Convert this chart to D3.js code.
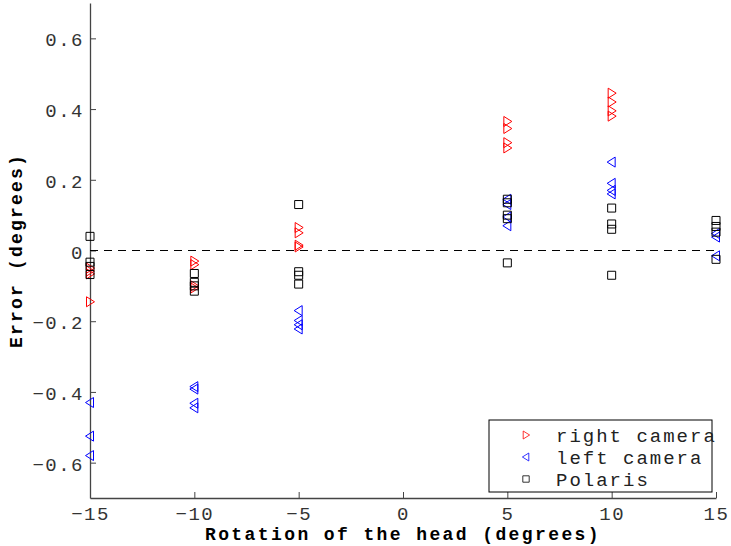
<!DOCTYPE html>
<html>
<head>
<meta charset="utf-8">
<script src="https://cdn.jsdelivr.net/npm/d3@7"></script>
<style>
  body { margin: 0; background: #fff; }
  text { font-family: "Liberation Mono", "Courier New", monospace; }
</style>
</head>
<body>
<svg id="chart" width="731" height="546"></svg>
<script>
// data: x = head rotation, y = error (degrees)
const rightX = [-15, -15, -15, -15, -10, -10, -10, -10, -5, -5, -5, -5, 5, 5, 5, 5, 10, 10, 10, 10];
const rightY = [-0.05, -0.058, -0.066, -0.145, -0.03, -0.04, -0.1, -0.106, 0.065, 0.05, 0.015, 0.01, 0.365, 0.345, 0.305, 0.29, 0.445, 0.42, 0.395, 0.38];

const leftX = [-15, -15, -15, -10, -10, -10, -10, -5, -5, -5, -5, 5, 5, 5, 5, 10, 10, 10, 10, 15, 15, 15];
const leftY = [-0.43, -0.525, -0.58, -0.385, -0.392, -0.432, -0.445, -0.17, -0.198, -0.21, -0.222, 0.145, 0.13, 0.095, 0.07, 0.25, 0.19, 0.17, 0.16, 0.048, 0.038, -0.015];

const polX = [-15, -15, -15, -15, -10, -10, -10, -10, -5, -5, -5, -5, 5, 5, 5, 5, 5, 10, 10, 10, 10, 15, 15, 15, 15];
const polY = [0.04, -0.033, -0.045, -0.068, -0.065, -0.09, -0.1, -0.115, 0.13, -0.06, -0.07, -0.095, 0.145, 0.135, 0.1, 0.09, -0.035, 0.12, 0.075, 0.06, -0.07, 0.085, 0.068, 0.052, -0.025];

const xTicks = [-15, -10, -5, 0, 5, 10, 15];
const yTicks = [-0.6, -0.4, -0.2, 0, 0.2, 0.4, 0.6];
const legendLabels = ["right camera", "left camera", "Polaris"];

const svg = d3.select("#chart");
const margin = {left: 90, right: 15, top: 3, bottom: 48};
const W = 731, H = 546;

const x = d3.scaleLinear().domain([-15, 15]).range([margin.left, W - margin.right]);
const y = d3.scaleLinear().domain([-0.7, 0.7]).range([H - margin.bottom, margin.top]);

const minus = s => s.replace("-", "\u2212");

// axes (ticks point inward)
const xAxis = d3.axisBottom(x).tickValues(xTicks).tickSizeInner(-6).tickSizeOuter(0)
  .tickPadding(9).tickFormat(d => minus(d3.format("d")(d)));
const yAxis = d3.axisLeft(y).tickValues(yTicks).tickSizeInner(-6).tickSizeOuter(0)
  .tickPadding(6).tickFormat(d => d === 0 ? "0" : minus(d3.format(".1f")(d)));

const gx = svg.append("g").attr("transform", "translate(0," + y(-0.7) + ")").call(xAxis);
const gy = svg.append("g").attr("transform", "translate(" + x(-15) + ",0)").call(yAxis);

[gx, gy].forEach(g => {
  g.select(".domain").attr("stroke", "#444").attr("stroke-width", 1.3);
  g.selectAll(".tick line").attr("stroke", "#444");
  g.selectAll(".tick text").attr("fill", "#333").style("font-size", "19px").style("letter-spacing", "1.5px");
});
gy.selectAll(".tick text").attr("dy", "0.4em");

// zero reference line
svg.append("line")
  .attr("x1", x(-15)).attr("x2", x(15))
  .attr("y1", y(0)).attr("y2", y(0))
  .attr("stroke", "#000").attr("stroke-dasharray", "8,6");

const s = 5;
const triRight = `M${-s * 0.7},${-s} L${s * 0.9},0 L${-s * 0.7},${s} Z`;
const triLeft = `M${s * 0.7},${-s} L${-s * 0.9},0 L${s * 0.7},${s} Z`;
const square = "M-4,-4 H4 V4 H-4 Z";

const plot = svg.append("g");

function drawSeries(xs, ys, path, color) {
  plot.selectAll(null)
    .data(xs.map((d, i) => [d, ys[i]]))
    .enter().append("path")
    .attr("d", path)
    .attr("transform", d => "translate(" + x(d[0]) + "," + y(d[1]) + ")")
    .attr("fill", "none")
    .attr("stroke", color)
    .attr("stroke-width", 1);
}
drawSeries(rightX, rightY, triRight, "#ff0000");
drawSeries(leftX, leftY, triLeft, "#0000ff");
drawSeries(polX, polY, square, "#000000");

// axis labels
svg.append("text")
  .attr("x", (x(-15) + x(15)) / 2).attr("y", 540)
  .attr("text-anchor", "middle")
  .style("font-size", "18px").style("font-weight", "bold").style("letter-spacing", "2.4px")
  .text("Rotation of the head (degrees)");

svg.append("text")
  .attr("transform", "translate(22," + y(0) + ") rotate(-90)")
  .attr("text-anchor", "middle")
  .style("font-size", "18px").style("font-weight", "bold").style("letter-spacing", "2.2px")
  .text("Error (degrees)");

// legend
const legend = svg.append("g").attr("transform", "translate(489,420)");
legend.append("rect")
  .attr("width", 223).attr("height", 72)
  .attr("fill", "#fff").attr("stroke", "#000").attr("stroke-width", 1);
const markers = [triRight, triLeft, square];
const colors = ["#ff0000", "#0000ff", "#000000"];
legendLabels.forEach((lab, i) => {
  const cy = 15 + i * 22;
  legend.append("path")
    .attr("d", markers[i])
    .attr("transform", "translate(37," + cy + ") scale(0.8)")
    .attr("fill", "none").attr("stroke", colors[i]);
  legend.append("text")
    .attr("x", 67).attr("y", cy).attr("dy", "0.35em")
    .attr("fill", "#222")
    .style("font-size", "19px").style("letter-spacing", "2px")
    .text(lab);
});
</script>
</body>
</html>
